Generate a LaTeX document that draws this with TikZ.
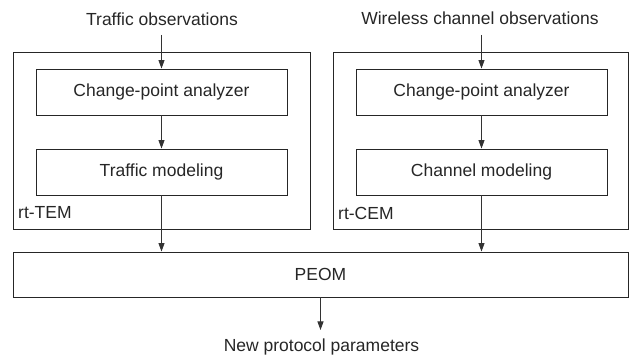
\documentclass[tikz,border=0pt]{standalone}
\usepackage{fontspec}
\setmainfont{Liberation Sans}
\usepackage{tikz}
\usetikzlibrary{arrows.meta}

\tikzset{
  box/.style={draw=black!85, line width=0.9pt, inner sep=0pt},
  flow/.style={-{Triangle[length=8.5pt,width=6pt]}, draw=black!80, line width=0.9pt},
  lbl/.style={text=black!85, font=\fontsize{17.5}{21}\selectfont, inner sep=0pt}
}

\begin{document}
\begin{tikzpicture}[x=1pt,y=1pt]
\useasboundingbox (0,0) rectangle (630,358);
\node[box, minimum width=297, minimum height=177] at (161.5,217.5) (tem) {}; \node[box, minimum width=295, minimum height=177] at (480.5,217.5) (cem) {};
\node[box, lbl, minimum width=251, minimum height=46] at (161.5,266) (cpa1) {Change-point analyzer}; \node[box, lbl, minimum width=251, minimum height=46] at (161.5,186) (tm) {Traffic modeling};
\node[box, lbl, minimum width=251, minimum height=46] at (481.5,266) (cpa2) {Change-point analyzer}; \node[box, lbl, minimum width=251, minimum height=46] at (481.5,186) (cm) {Channel modeling};
\node[box, lbl, minimum width=615, minimum height=45] at (320.5,83.5) (peom) {PEOM};
\node[lbl, anchor=west] at (18,145) (temlbl) {rt-TEM}; \node[lbl, anchor=west] at (338,145) (cemlbl) {rt-CEM};
\node[lbl] at (162,339) (tobs) {Traffic observations}; \node[lbl] at (480,340) (wobs) {Wireless channel observations};
\node[lbl] at (321.5,11) (out) {New protocol parameters};
\coordinate (t0) at (161.5,323); \coordinate (w0) at (481.5,323); \coordinate (o1) at (320.5,28);

\draw[flow] (t0) -- (cpa1.north);
\draw[flow] (cpa1) -- (tm);
\draw[flow] (tm.south) -- (tm.south |- peom.north);
\draw[flow] (w0) -- (cpa2.north);
\draw[flow] (cpa2) -- (cm);
\draw[flow] (cm.south) -- (cm.south |- peom.north);
\draw[flow] (peom.south) -- (o1);
\end{tikzpicture}
\end{document}
